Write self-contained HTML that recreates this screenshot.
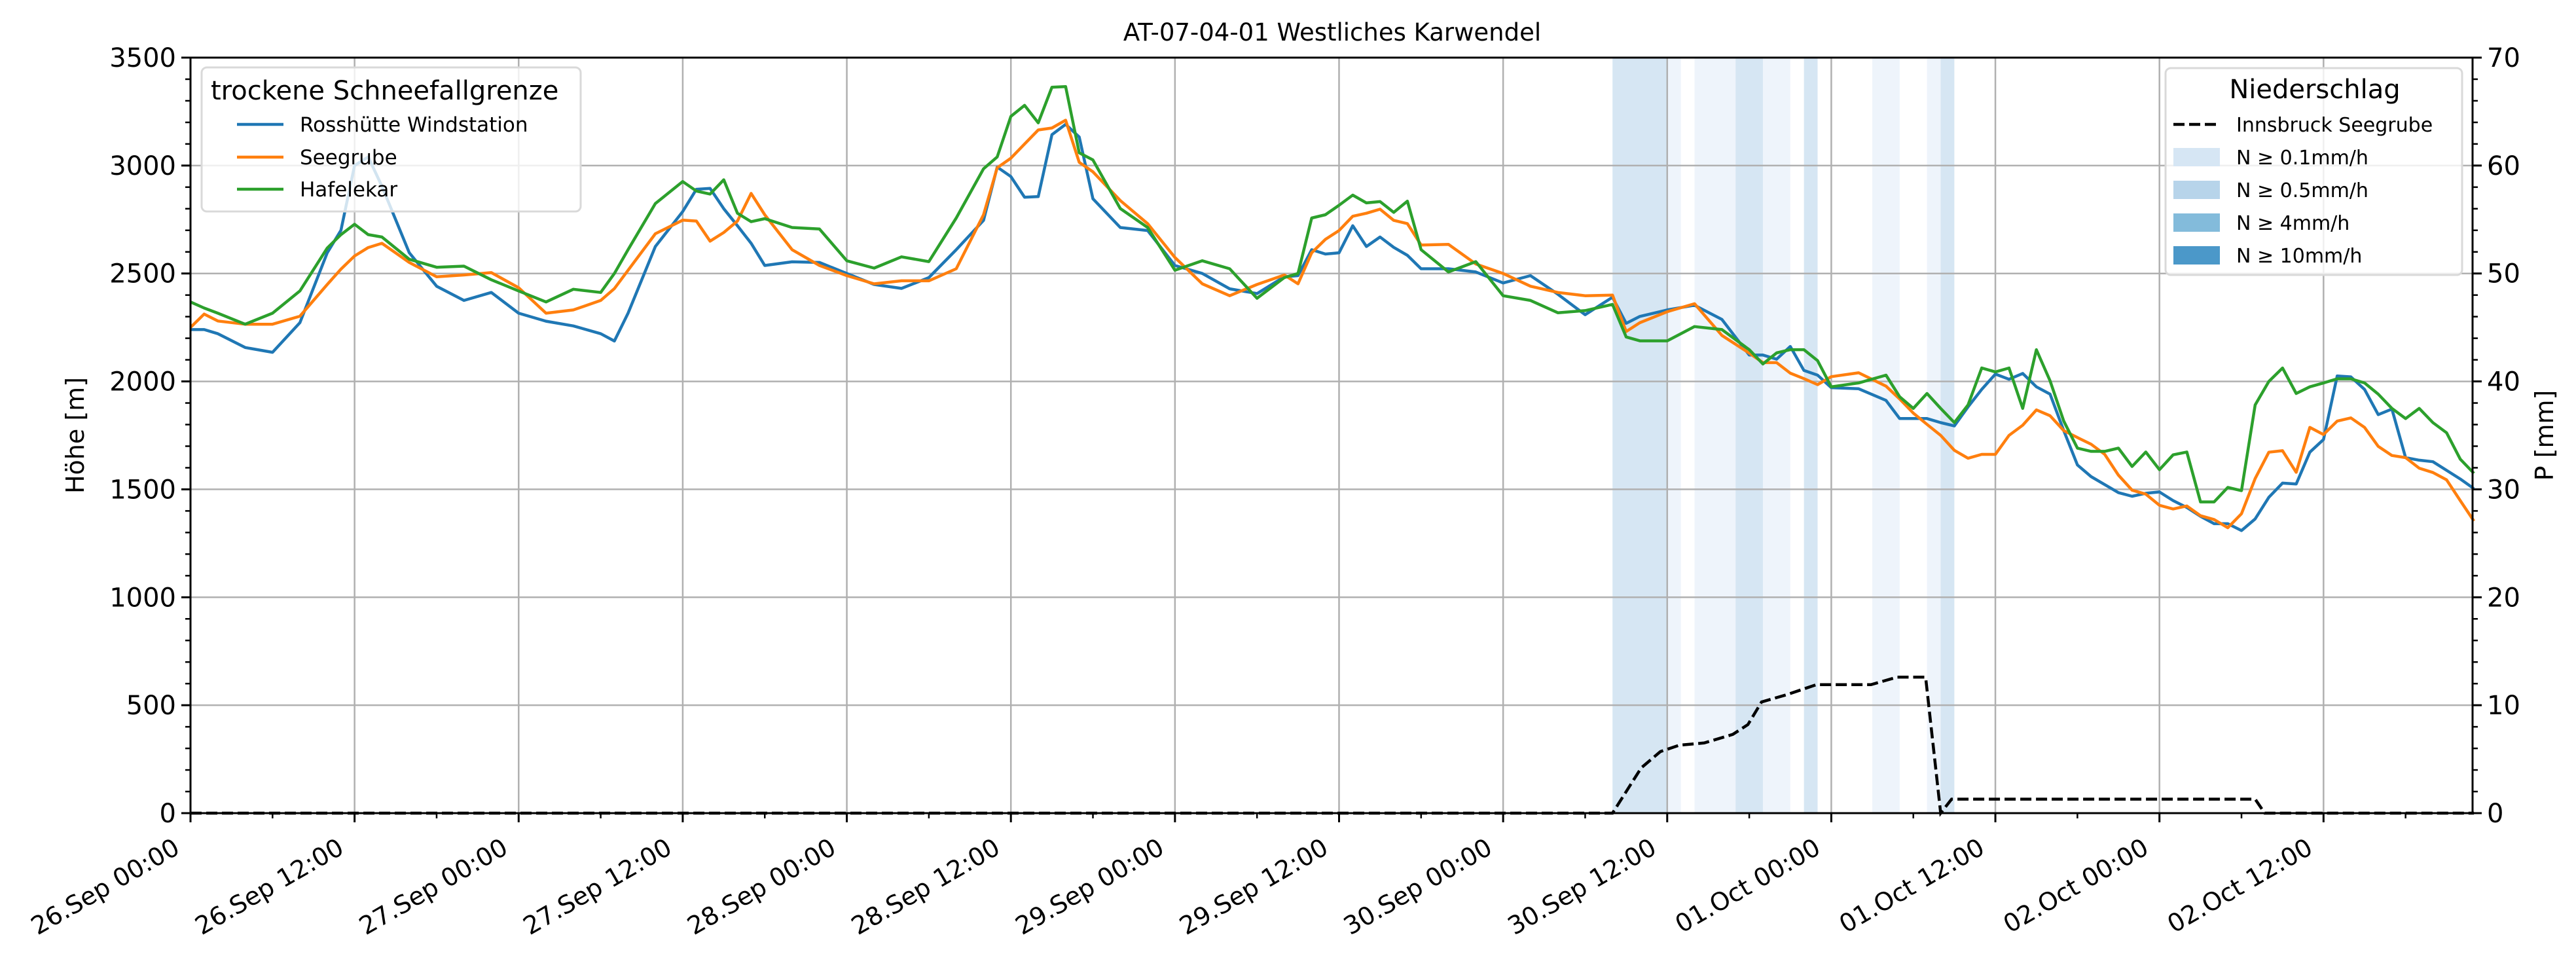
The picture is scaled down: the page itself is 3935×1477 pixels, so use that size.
<!DOCTYPE html>
<html><head><meta charset="utf-8"><title>AT-07-04-01 Westliches Karwendel</title>
<style>
html,body{margin:0;padding:0;background:#fff;}
svg{display:block;font-family:"DejaVu Sans","Liberation Sans",sans-serif;}
</style></head>
<body>
<svg id="chart" width="3935" height="1477" viewBox="0 0 3935 1477" xmlns="http://www.w3.org/2000/svg">
<rect width="3935" height="1477" fill="#fff"/>
<g id="bands"></g>
<g id="grid"></g>
<g id="series"></g>
<g id="axes"></g>
<text x="2035" y="62" font-size="37" text-anchor="middle">AT-07-04-01 Westliches Karwendel</text>
<text transform="translate(128,665) rotate(-90)" font-size="38" text-anchor="middle">Höhe [m]</text>
<text transform="translate(3900,665) rotate(-90)" font-size="38" text-anchor="middle">P [mm]</text>
<g id="legend-left">
  <rect x="308" y="103" width="579" height="220" rx="8" fill="#fff" fill-opacity="0.8" stroke="#d9d9d9" stroke-width="3"/>
  <text x="322" y="152" font-size="40">trockene Schneefallgrenze</text>
  <line x1="362" y1="190" x2="433" y2="190" stroke="#1f77b4" stroke-width="4.5"/>
  <text x="458" y="201" font-size="31">Rosshütte Windstation</text>
  <line x1="362" y1="240" x2="433" y2="240" stroke="#ff7f0e" stroke-width="4.5"/>
  <text x="458" y="251" font-size="31">Seegrube</text>
  <line x1="362" y1="289" x2="433" y2="289" stroke="#2ca02c" stroke-width="4.5"/>
  <text x="458" y="300" font-size="31">Hafelekar</text>
</g>
<g id="legend-right">
  <rect x="3308" y="104" width="453" height="316" rx="8" fill="#fff" fill-opacity="0.8" stroke="#d9d9d9" stroke-width="3"/>
  <text x="3536" y="150" font-size="40" text-anchor="middle">Niederschlag</text>
  <line x1="3320" y1="190" x2="3391" y2="190" stroke="#000" stroke-width="4.5" stroke-dasharray="17,7"/>
  <text x="3416" y="201" font-size="30">Innsbruck Seegrube</text>
  <rect x="3320" y="226" width="71" height="28" fill="#d6e6f4"/>
  <text x="3416" y="251" font-size="30">N ≥ 0.1mm/h</text>
  <rect x="3320" y="276" width="71" height="28" fill="#b7d4ea"/>
  <text x="3416" y="301" font-size="30">N ≥ 0.5mm/h</text>
  <rect x="3320" y="326" width="71" height="28" fill="#83bbdb"/>
  <text x="3416" y="351" font-size="30">N ≥ 4mm/h</text>
  <rect x="3320" y="376" width="71" height="28" fill="#4b98c9"/>
  <text x="3416" y="401" font-size="30">N ≥ 10mm/h</text>
</g>
</svg>
<script>
// ---- data ----
const hours = [0,1,2,4,6,8,10,11,12,13,14,16,18,20,22,24,26,28,30,31,32,34,36,37,38,39,40,41,42,44,46,48,50,52,54,56,58,59,60,61,62,63,64,65,66,68,70,72,74,76,78,80,81,82,83,84,85,86,87,88,89,90,92,94,96,98,100,102,104,105,106,108,110,112,114,115,116,117,118,119,120,122,124,125,126,127,128,129,130,131,132,133,134,135,136,137,138,139,140,141,142,143,144,145,146,147,148,149,150,151,152,153,154,155,156,157,158,159,160,161,162,163,164,165,166,167];
const rosshuette = [2240,2240,2221,2157,2135,2272,2596,2700,3000,3040,2904,2596,2441,2375,2412,2316,2279,2257,2221,2187,2316,2625,2787,2890,2894,2800,2721,2640,2537,2554,2551,2500,2449,2431,2481,2610,2746,2993,2949,2853,2856,3143,3191,3132,2846,2713,2699,2537,2500,2429,2407,2485,2490,2610,2590,2596,2721,2625,2669,2621,2584,2522,2522,2507,2456,2490,2404,2309,2390,2269,2301,2331,2353,2287,2122,2122,2103,2162,2051,2029,1971,1966,1912,1828,1828,1828,1809,1794,1882,1963,2034,2010,2037,1975,1941,1772,1613,1559,1522,1485,1468,1482,1488,1448,1416,1375,1341,1341,1309,1363,1463,1529,1525,1672,1731,2025,2021,1963,1846,1872,1647,1635,1628,1588,1548,1503];
const seegrube = [2250,2312,2280,2265,2265,2302,2449,2520,2581,2620,2640,2551,2485,2493,2504,2434,2316,2331,2375,2430,2515,2684,2747,2743,2650,2690,2743,2871,2772,2610,2537,2490,2452,2466,2466,2522,2772,2990,3034,3100,3165,3174,3210,3015,2971,2838,2731,2574,2452,2397,2449,2493,2452,2596,2658,2699,2765,2779,2798,2746,2731,2632,2635,2544,2500,2441,2412,2397,2400,2231,2272,2323,2360,2213,2131,2087,2087,2038,2013,1985,2022,2040,1978,1919,1853,1801,1750,1681,1644,1662,1662,1750,1797,1868,1841,1772,1740,1709,1662,1566,1496,1478,1426,1409,1423,1378,1360,1322,1387,1550,1672,1679,1579,1787,1754,1816,1831,1787,1699,1657,1647,1598,1578,1544,1448,1353];
const hafelekar = [2368,2340,2316,2265,2316,2419,2618,2680,2728,2680,2669,2566,2529,2534,2471,2419,2368,2427,2412,2500,2610,2824,2926,2882,2868,2934,2779,2740,2754,2713,2706,2559,2525,2577,2555,2757,2985,3040,3228,3279,3198,3363,3366,3059,3026,2801,2713,2515,2559,2522,2385,2481,2500,2757,2772,2816,2863,2827,2833,2783,2835,2610,2507,2555,2397,2375,2318,2328,2357,2206,2188,2188,2254,2240,2147,2081,2132,2147,2147,2096,1975,1993,2029,1929,1875,1944,1875,1809,1891,2062,2044,2062,1875,2147,2003,1816,1691,1676,1676,1691,1606,1673,1591,1660,1673,1442,1442,1509,1494,1891,2000,2062,1944,1975,1993,2012,2012,1993,1941,1875,1828,1875,1809,1762,1640,1574];
const precipHours = [0,104,106.1,107.5,108.9,110.7,112.8,113.9,114.9,116.8,118.9,122.9,124.8,126.9,128.0,128.8,151.0,151.7,167];
const precipMM = [0,0,4.2,5.7,6.3,6.5,7.3,8.2,10.3,11.0,11.9,11.9,12.6,12.6,0,1.3,1.3,0,0];
const bandStart = [104,108,110,113,115,118,123,127,128];
const bandEnd = [108,109,113,115,117,119,125,128,129];
const bandLevel = [2,1,1,2,1,2,1,1,2];
const xTickLabels = ["26.Sep 00:00","26.Sep 12:00","27.Sep 00:00","27.Sep 12:00","28.Sep 00:00","28.Sep 12:00","29.Sep 00:00","29.Sep 12:00","30.Sep 00:00","30.Sep 12:00","01.Oct 00:00","01.Oct 12:00","02.Oct 00:00","02.Oct 12:00"];
const yTicks = [0,500,1000,1500,2000,2500,3000,3500];
const y2Ticks = [0,10,20,30,40,50,60,70];

// ---- axes functions ----
const L=291,R=3777,T=88,B=1242,HMAX=166.9;
const x = h => L + (h/HMAX)*(R-L);
const y = v => B - (v/3500)*(B-T);
const y2 = v => B - (v/70)*(B-T);
const NS="http://www.w3.org/2000/svg";
function mk(tag, attrs, parent){const e=document.createElementNS(NS,tag);for(const k in attrs)e.setAttribute(k,attrs[k]);parent.appendChild(e);return e;}

const bands=document.getElementById('bands');
const bandColors={1:'#eef4fb',2:'#d6e6f3'};
bandStart.forEach((s,i)=>{
  const r=mk('rect',{x:x(s),y:T,width:x(bandEnd[i])-x(s),height:B-T,fill:bandColors[bandLevel[i]]},bands);
  
  
});

const grid=document.getElementById('grid');
xTickLabels.forEach((t,i)=>{
  const gx=x(i*12);
  const l=mk('line',{x1:gx,y1:T,x2:gx,y2:B,stroke:'#b0b0b0','stroke-width':2.5},grid);
  
  
});
yTicks.forEach(v=>{
  const l=mk('line',{x1:L,y1:y(v),x2:R,y2:y(v),stroke:'#b0b0b0','stroke-width':2.5},grid);
  
  
});

const series=document.getElementById('series');
function pathFrom(xs,vs,fy){return xs.map((h,i)=>(i?'L':'M')+x(h).toFixed(1)+','+fy(vs[i]).toFixed(1)).join(' ');}
const sdefs=[[rosshuette,'#1f77b4','line-rosshuette'],[seegrube,'#ff7f0e','line-seegrube'],[hafelekar,'#2ca02c','line-hafelekar']];
sdefs.forEach(d=>{
  const p=mk('path',{d:pathFrom(hours,d[0],y),fill:'none',stroke:d[1],'stroke-width':4.5,'stroke-linejoin':'round'},series);
  
  
});
const pp=mk('path',{d:pathFrom(precipHours,precipMM,y2),fill:'none',stroke:'#000','stroke-width':4.5,'stroke-dasharray':'17,7'},series);



const axes=document.getElementById('axes');
const frame=mk('rect',{x:L,y:T,width:R-L,height:B-T,fill:'none',stroke:'#000','stroke-width':3},axes);


// left ticks
for(let v=0;v<=3500;v+=100){
  const major=v%500===0;
  mk('line',{x1:L,y1:y(v),x2:L-(major?14:8),y2:y(v),stroke:'#000','stroke-width':major?3:2.5},axes);
}
yTicks.forEach(v=>{
  const t=mk('text',{x:L-22,y:y(v)+14,'font-size':40,'text-anchor':'end'},axes);
  t.textContent=String(v);
  
  
});
// right ticks
for(let v=0;v<=70;v+=2){
  const major=v%10===0;
  mk('line',{x1:R,y1:y2(v),x2:R+(major?14:8),y2:y2(v),stroke:'#000','stroke-width':major?3:2.5},axes);
}
y2Ticks.forEach(v=>{
  const t=mk('text',{x:R+22,y:y2(v)+14,'font-size':40,'text-anchor':'start'},axes);
  t.textContent=String(v);
  
  
});
// x ticks
for(let h=0;h<=HMAX;h+=6){
  const major=h%12===0;
  mk('line',{x1:x(h),y1:B,x2:x(h),y2:B+(major?14:8),stroke:'#000','stroke-width':major?3:2.5},axes);
}
xTickLabels.forEach((lab,i)=>{
  const tx=x(i*12)-14, ty=1302;
  const t=mk('text',{x:tx,y:ty,'font-size':38,'text-anchor':'end',transform:`rotate(-30 ${tx} ${ty})`},axes);
  t.textContent=lab;
  
  
});
</script>
</body></html>
